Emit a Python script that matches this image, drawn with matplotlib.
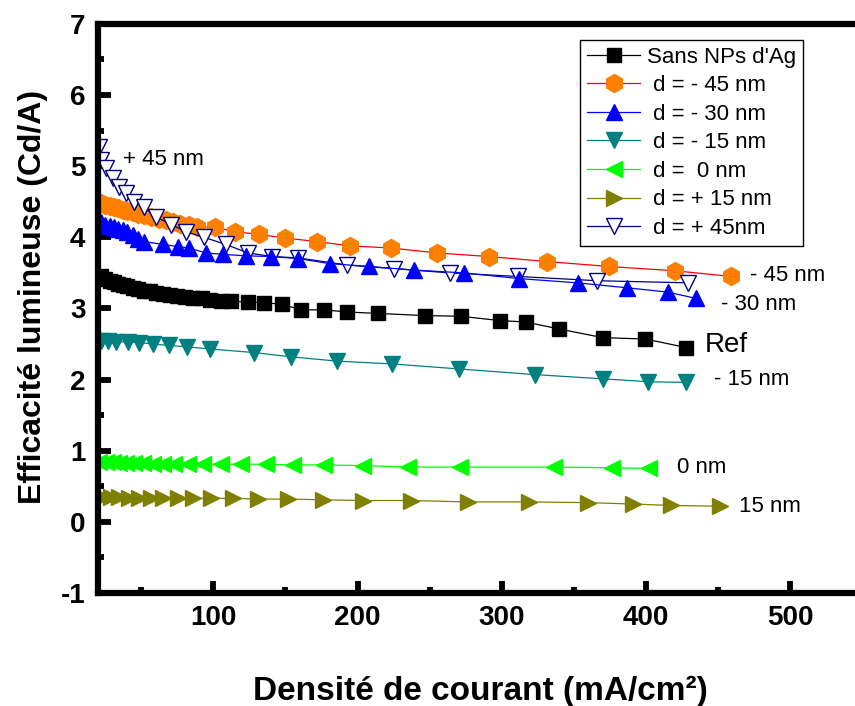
import matplotlib
matplotlib.use('Agg')
import matplotlib.pyplot as plt
from matplotlib.ticker import MultipleLocator, FixedLocator

plt.rcParams['axes.unicode_minus'] = False

# ---------------- data ----------------
x_ref = [22, 25, 28, 31, 34, 37, 40, 44, 48, 52, 56, 60, 65, 70, 75, 80, 86, 92, 98, 105,
         112, 124, 135, 147.5, 161, 176.6, 193, 214, 246.5, 271.5, 298.5, 316.5, 340, 370, 399.6, 428]
y_ref = [3.46, 3.42, 3.39, 3.37, 3.35, 3.33, 3.31, 3.29, 3.27, 3.25, 3.24, 3.22, 3.21, 3.19, 3.18,
         3.16, 3.15, 3.14, 3.12, 3.11, 3.10, 3.09, 3.08, 3.06, 2.98, 2.98, 2.95, 2.93, 2.90, 2.89,
         2.83, 2.81, 2.71, 2.59, 2.57, 2.45]

x_m45 = [22, 25, 28, 31, 34, 37, 40, 44, 48, 52, 57, 62, 67, 72, 77, 83, 89,
         101, 115, 131.6, 150, 171.7, 194.6, 223, 255, 291, 331, 374, 420, 459]
y_m45 = [4.48, 4.46, 4.44, 4.42, 4.41, 4.39, 4.37, 4.35, 4.33, 4.31, 4.28, 4.26, 4.24, 4.22, 4.19,
         4.17, 4.15, 4.14, 4.08, 4.04, 3.99, 3.94, 3.88, 3.85, 3.78, 3.73, 3.66, 3.59, 3.53, 3.45]

x_m30 = [22, 25, 28, 31, 34, 37, 40, 44, 48, 52, 65, 75.5, 83, 95, 107, 122.6, 140, 159, 181,
         208, 239, 273.5, 312, 352.5, 387, 415, 435]
y_m30 = [4.21, 4.18, 4.16, 4.14, 4.12, 4.10, 4.08, 4.03, 3.98, 3.94, 3.90, 3.87, 3.85, 3.78, 3.76,
         3.74, 3.73, 3.70, 3.63, 3.59, 3.54, 3.50, 3.42, 3.36, 3.29, 3.23, 3.14]

x_m15 = [22, 27, 32.5, 41, 48.5, 58, 69, 82, 98, 128, 154, 185.6, 224, 270, 323, 370.5, 401.7, 428]
y_m15 = [2.54, 2.54, 2.53, 2.53, 2.52, 2.50, 2.48, 2.46, 2.43, 2.38, 2.32, 2.26, 2.22, 2.15,
         2.07, 2.01, 1.97, 1.96]

x_0 = [20.8, 25.6, 30.5, 34.6, 39.5, 45, 51.2, 58.2, 65.1, 72.7, 82.4, 92.8, 105.3, 119, 136.4,
       155, 176.6, 203.6, 234.8, 270.8, 335.9, 376.7, 401.8]
y_0 = [0.84, 0.84, 0.84, 0.83, 0.83, 0.83, 0.83, 0.82, 0.82, 0.82, 0.82, 0.81, 0.81, 0.81, 0.81,
       0.80, 0.80, 0.79, 0.77, 0.77, 0.77, 0.76, 0.75]

x_p15 = [23.5, 29.1, 34.6, 41.6, 48.5, 56.8, 65.1, 75.5, 85.9, 98.3, 113.6, 130.9, 151.7, 175.9,
         203.6, 236.8, 276.3, 318.6, 359.5, 391.3, 417.6, 451.5]
y_p15 = [0.35, 0.35, 0.35, 0.34, 0.34, 0.34, 0.34, 0.33, 0.33, 0.33, 0.33, 0.32, 0.32, 0.31,
         0.30, 0.30, 0.28, 0.28, 0.27, 0.25, 0.23, 0.22]

x_p45 = [20.5, 22, 25.6, 30.5, 34.6, 39.5, 45, 52, 60, 70.6, 81, 93.5, 108.7, 124, 141, 159,
         193, 225, 264, 311, 366, 429]
y_p45 = [5.27, 5.09, 4.98, 4.84, 4.71, 4.63, 4.50, 4.42, 4.29, 4.18, 4.08, 4.00, 3.90, 3.78,
         3.73, 3.71, 3.61, 3.56, 3.50, 3.45, 3.39, 3.36]

labels = ["Sans NPs d'Ag", " d = - 45 nm", " d = - 30 nm", " d = - 15 nm",
          " d =  0 nm", " d = + 15 nm", " d = + 45nm"]
x_ticks = [100, 200, 300, 400, 500]
y_ticks = [-1, 0, 1, 2, 3, 4, 5, 6, 7]

# ---------------- figure ----------------
fig = plt.figure(figsize=(8.55, 7.06), dpi=100)
ax = fig.add_axes([0.1146, 0.1601, 0.894, 0.806])

lw = 0.9
h_ref, = ax.plot(x_ref, y_ref, '-', color='black', lw=lw, marker='s', ms=10,
                 mfc='black', mec='black', label=labels[0])
h_m45, = ax.plot(x_m45, y_m45, '-', color='#ff0000', lw=lw, marker='h', ms=13,
                 mfc='#ff8000', mec='#ff8000', label=labels[1])
h_p45, = ax.plot(x_p45, y_p45, '-', color='#000080', lw=lw, marker='v', ms=11.5,
                 mfc='white', mec='#000080', mew=1.0, label=labels[6])
h_m30, = ax.plot(x_m30, y_m30, '-', color='#0000ff', lw=lw, marker='^', ms=12,
                 mfc='#0000ff', mec='#0000ff', label=labels[2])
h_m15, = ax.plot(x_m15, y_m15, '-', color='#008080', lw=lw, marker='v', ms=12,
                 mfc='#008080', mec='#008080', label=labels[3])
h_0, = ax.plot(x_0, y_0, '-', color='#00ff00', lw=lw, marker='<', ms=12,
               mfc='#00ff00', mec='#00ff00', label=labels[4])
h_p15, = ax.plot(x_p15, y_p15, '-', color='#808000', lw=lw, marker='>', ms=12,
                 mfc='#808000', mec='#808000', label=labels[5])

ax.set_xlim(20, 550)
ax.set_ylim(-1, 7)

ax.xaxis.set_major_locator(FixedLocator(x_ticks))
ax.xaxis.set_minor_locator(MultipleLocator(50))
ax.yaxis.set_major_locator(FixedLocator(y_ticks))
ax.yaxis.set_minor_locator(MultipleLocator(0.5))

for s in ['left', 'bottom', 'top', 'right']:
    ax.spines[s].set_linewidth(4.5)
ax.tick_params(which='major', direction='in', length=9, width=4.2, top=False, right=False,
               pad=9)
ax.tick_params(which='minor', direction='in', length=4, width=4.2, top=False, right=False)

regular = ['Liberation Sans', 'DejaVu Sans']

for t in ax.get_xticklabels():
    t.set_fontfamily(regular)
    t.set_fontweight('bold')
    t.set_fontsize(20)
for t in ax.get_yticklabels():
    t.set_fontfamily(regular)
    t.set_fontweight('bold')
    t.set_fontsize(20)

ax.set_xlabel('Densité de courant (mA/cm²)', fontfamily=regular, fontweight='bold',
              fontsize=24, labelpad=32)
ax.set_ylabel('Efficacité lumineuse (Cd/A)', fontfamily=regular, fontweight='bold',
              fontsize=23, labelpad=9, y=0.52)

leg = ax.legend(handles=[h_ref, h_m45, h_m30, h_m15, h_0, h_p15, h_p45],
                loc='upper left', bbox_to_anchor=(0.631, 0.972), borderaxespad=0,
                numpoints=1, handlelength=2.4, handletextpad=0.3, labelspacing=0.34,
                borderpad=0.3, fancybox=False, framealpha=1, edgecolor='black',
                prop={'family': regular, 'size': 16})
leg.get_frame().set_linewidth(1.0)

ann = dict(family=regular, fontsize=16, ha='left', va='center')
ax.text(37.4, 5.09, '+ 45 nm', **ann)
ax.text(472, 3.46, '- 45 nm', **ann)
ax.text(452, 3.05, '- 30 nm', **ann)
ax.text(441, 2.48, 'Ref', family=regular, fontsize=20, ha='left', va='center')
ax.text(447, 2.00, '- 15 nm', **ann)
ax.text(421.7, 0.76, '0 nm', **ann)
ax.text(464.7, 0.22, '15 nm', **ann)

fig.savefig('out.png', dpi=100)
